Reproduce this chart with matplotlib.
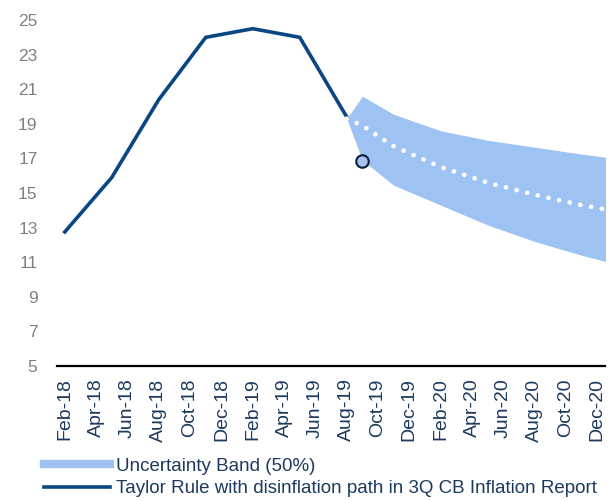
import pandas as pd
import matplotlib
matplotlib.use("Agg")
import matplotlib.pyplot as plt
from matplotlib.lines import Line2D

# data
tick_labels = ["Feb-18", "Apr-18", "Jun-18", "Aug-18", "Oct-18", "Dec-18",
               "Feb-19", "Apr-19", "Jun-19", "Aug-19", "Oct-19", "Dec-19",
               "Feb-20", "Apr-20", "Jun-20", "Aug-20", "Oct-20", "Dec-20"]

taylor_dates = ["Feb-18", "May-18", "Aug-18", "Nov-18", "Feb-19", "May-19", "Aug-19"]
taylor_values = [12.75, 15.9, 20.4, 24.0, 24.5, 24.0, 19.4]

band_dates = ["Aug-19", "Sep-19", "Nov-19", "Feb-20", "May-20", "Aug-20", "Nov-20", "Feb-21"]
band_upper = [19.3, 20.6, 19.55, 18.6, 18.05, 17.65, 17.25, 16.9]
band_lower = [19.3, 16.9, 15.45, 14.3, 13.15, 12.2, 11.4, 10.7]
central_path = [19.3, 18.9, 17.7, 16.5, 15.6, 14.9, 14.3, 13.8]

marker_date = "Sep-19"
marker_value = 16.85

NAVY = "#0A4682"
BAND = "#9EC3F3"
TEXT = "#1C3A5E"
GREY = "#808080"

start = pd.Period("2018-02", "M")


def month_idx(labels):
    return [(pd.Period(pd.to_datetime(l, format="%b-%y"), "M") - start).n for l in labels]


plt.rcParams["font.family"] = ["Liberation Sans", "DejaVu Sans"]

fig = plt.figure(figsize=(6.10, 5.01), dpi=100)
ax = fig.add_axes([0.0934, 0.2695, 0.8986, 0.6905])

bx = month_idx(band_dates)
ax.fill_between(bx, band_lower, band_upper, color=BAND, lw=0, zorder=1)
ax.plot(month_idx(taylor_dates), taylor_values, color=NAVY, lw=2.6, zorder=3)
ax.plot(bx, central_path, color="white", lw=3.4,
        linestyle=(0, (0.01, 2.3)), dash_capstyle="round", zorder=4)
ax.plot(month_idx([marker_date]), [marker_value], "o", ms=9,
        mfc="#A7C3EC", mec="#0E1E3A", mew=1.5, zorder=5)

ax.set_xlim(-0.5, 34.5)
ax.set_ylim(5, 25)
ax.set_yticks(range(5, 26, 2))
ax.set_xticks(month_idx(tick_labels))
ax.set_xticklabels(tick_labels, rotation=90, fontsize=14, color=TEXT)
ax.tick_params(axis="x", length=0, pad=9)
ax.tick_params(axis="y", length=0, pad=14, labelsize=12.5, labelcolor=GREY)

for s in ["top", "right", "left"]:
    ax.spines[s].set_visible(False)
ax.spines["bottom"].set_linewidth(1.6)
ax.spines["bottom"].set_color("black")

handles = [Line2D([], [], color=BAND, lw=6),
           Line2D([], [], color=NAVY, lw=2.6)]
labels = ["Uncertainty Band (50%)",
          "Taylor Rule with disinflation path in 3Q CB Inflation Report"]
leg = fig.legend(handles, labels, loc="upper left", bbox_to_anchor=(0.072, 0.087),
                 frameon=False, fontsize=13.5, handlelength=3.5, handletextpad=0.37,
                 labelspacing=0.3, borderpad=0, borderaxespad=0)
for t in leg.get_texts():
    t.set_color(TEXT)

fig.savefig("out.png", dpi=100)
